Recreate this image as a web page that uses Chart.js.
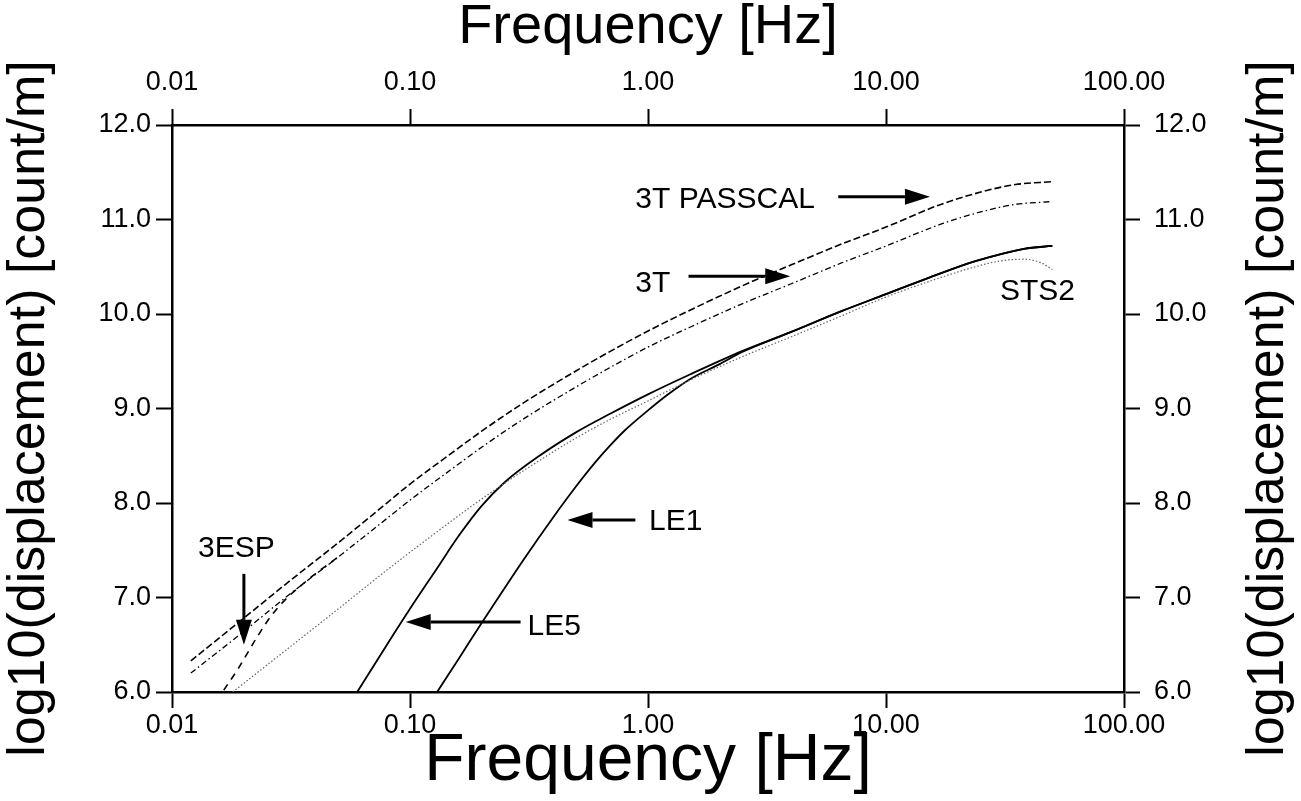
<!DOCTYPE html>
<html>
<head>
<meta charset="utf-8">
<script src="https://cdn.jsdelivr.net/npm/chart.js@4.4.1/dist/chart.umd.min.js"></script>
<style>
    html, body { margin: 0; padding: 0; background: #fff; }
</style>
</head>
<body>
<canvas id="responseChart" width="1301" height="801"></canvas>
<script>
// frequency (Hz) and log10(displacement) [count/m]
const passcalFreq = [0.012, 0.02, 0.03, 0.05, 0.07, 0.1, 0.15, 0.2, 0.3, 0.5, 0.7, 1.0, 1.5, 2.5, 4, 6.5, 10, 17, 25, 35, 50];
const passcalVal = [6.33, 6.78, 7.14, 7.58, 7.88, 8.20, 8.53, 8.76, 9.06, 9.40, 9.61, 9.82, 10.04, 10.30, 10.52, 10.74, 10.92, 11.16, 11.29, 11.37, 11.40];

const t3Freq = [0.012, 0.02, 0.03, 0.05, 0.07, 0.1, 0.15, 0.2, 0.3, 0.5, 0.7, 1.0, 1.5, 2.5, 4, 6.5, 10, 17, 25, 35, 50];
const t3Val = [6.20, 6.64, 7.00, 7.43, 7.72, 8.03, 8.36, 8.59, 8.89, 9.23, 9.44, 9.65, 9.86, 10.11, 10.32, 10.54, 10.72, 10.95, 11.08, 11.16, 11.19];

const espFreq = [0.0165, 0.019, 0.0225, 0.026, 0.03, 0.035, 0.04, 0.05];
const espVal = [6.02, 6.25, 6.56, 6.80, 6.98, 7.13, 7.25, 7.43];

const stsFreq = [0.018, 0.03, 0.05, 0.08, 0.12, 0.18, 0.25, 0.35, 0.5, 0.7, 1.0, 1.5, 2.5, 4, 6.5, 10, 15, 23, 30, 38, 45, 50];
const stsVal = [6.0, 6.44, 6.88, 7.29, 7.63, 7.96, 8.21, 8.45, 8.69, 8.89, 9.08, 9.30, 9.55, 9.76, 9.98, 10.18, 10.34, 10.49, 10.56, 10.58, 10.54, 10.47];

const le5Freq = [0.06, 0.08, 0.1, 0.13, 0.16, 0.2, 0.25, 0.35, 0.5, 0.7, 1.0, 1.5, 2.5, 4, 6.5, 10, 15, 23, 30, 38, 50];
const le5Val = [6.0, 6.50, 6.88, 7.31, 7.65, 7.97, 8.22, 8.50, 8.75, 8.95, 9.15, 9.36, 9.61, 9.81, 10.03, 10.21, 10.38, 10.55, 10.63, 10.69, 10.72];

const le1Freq = [0.13, 0.16, 0.2, 0.25, 0.3, 0.4, 0.5, 0.6, 0.7, 0.8, 1.0, 1.2, 1.5, 2.0, 2.5, 4, 6.5, 10, 15, 23, 30, 38, 50];
const le1Val = [6.0, 6.35, 6.73, 7.10, 7.40, 7.85, 8.18, 8.43, 8.62, 8.77, 8.98, 9.14, 9.31, 9.47, 9.60, 9.81, 10.03, 10.21, 10.38, 10.55, 10.63, 10.69, 10.72];

const xTicks = [0.01, 0.1, 1, 10, 100];
const yTicks = [6, 7, 8, 9, 10, 11, 12];

// annotations (text + arrows), placed in data coordinates
const labelText = ['3T PASSCAL', '3T', 'STS2', '3ESP', 'LE1', 'LE5'];
const labelFreq = [0.885, 0.885, 30.1, 0.01286, 1.01, 0.312];
const labelVal = [11.21, 10.32, 10.24, 7.52, 7.80, 6.69];

const arrowFromFreq = [6.30, 1.48, 0.885, 0.2915, 0.02005];
const arrowFromVal = [11.24, 10.40, 7.82, 6.74, 7.25];
const arrowToFreq = [15.3, 3.96, 0.459, 0.0959, 0.02005];
const arrowToVal = [11.24, 10.40, 7.82, 6.74, 6.50];

const yTitle = 'log10(displacement) [count/m]';
const fontFamily = '"Liberation Sans", Arial, Helvetica, sans-serif';

function toPoints(freq, vals) {
    return freq.map((f, i) => ({ x: f, y: vals[i] }));
}

const annotationPlugin = {
    id: 'figureLabels',
    afterDraw(chart) {
        const { ctx, chartArea, scales } = chart;
        const px = f => scales.x.getPixelForValue(f);
        const py = v => scales.y.getPixelForValue(v);

        ctx.save();
        ctx.fillStyle = '#000';
        ctx.strokeStyle = '#000';
        ctx.font = '30px ' + fontFamily;
        ctx.textBaseline = 'middle';
        ctx.textAlign = 'left';
        labelText.forEach((t, i) => {
            ctx.fillText(t, px(labelFreq[i]), py(labelVal[i]));
        });

        ctx.lineWidth = 3;
        arrowFromFreq.forEach((f, i) => {
            const x1 = px(f), y1 = py(arrowFromVal[i]);
            const x2 = px(arrowToFreq[i]), y2 = py(arrowToVal[i]);
            const ang = Math.atan2(y2 - y1, x2 - x1);
            const headLen = 25, headHalf = 8;
            const bx = x2 - headLen * Math.cos(ang), by = y2 - headLen * Math.sin(ang);
            ctx.beginPath();
            ctx.moveTo(x1, y1);
            ctx.lineTo(bx, by);
            ctx.stroke();
            ctx.beginPath();
            ctx.moveTo(x2, y2);
            ctx.lineTo(bx + headHalf * Math.sin(ang), by - headHalf * Math.cos(ang));
            ctx.lineTo(bx - headHalf * Math.sin(ang), by + headHalf * Math.cos(ang));
            ctx.closePath();
            ctx.fill();
        });

        // right-hand axis title reads bottom to top like the left one
        ctx.translate(chart.width - 32, (chartArea.top + chartArea.bottom) / 2);
        ctx.rotate(-Math.PI / 2);
        ctx.textAlign = 'center';
        ctx.font = '52px ' + fontFamily;
        ctx.fillText(yTitle, 0, 0);
        ctx.restore();
    }
};

const axisGrid = {
    drawOnChartArea: false,
    drawTicks: true,
    tickLength: 16,
    tickWidth: 2,
    color: '#000'
};
const axisBorder = { display: true, color: '#000', width: 2.5 };
const tickFont = { family: fontFamily, size: 27 };

const ctx = document.getElementById('responseChart').getContext('2d');
new Chart(ctx, {
    type: 'line',
    data: {
        datasets: [
            {
                label: '3T PASSCAL',
                data: toPoints(passcalFreq, passcalVal),
                borderColor: '#000',
                borderWidth: 1.6,
                borderDash: [7, 3],
                pointRadius: 0,
                cubicInterpolationMode: 'monotone'
            },
            {
                label: '3T',
                data: toPoints(t3Freq, t3Val),
                borderColor: '#000',
                borderWidth: 1.3,
                borderDash: [6, 3, 1.5, 3],
                pointRadius: 0,
                cubicInterpolationMode: 'monotone'
            },
            {
                label: '3ESP',
                data: toPoints(espFreq, espVal),
                borderColor: '#000',
                borderWidth: 1.6,
                borderDash: [7, 6],
                pointRadius: 0,
                cubicInterpolationMode: 'monotone'
            },
            {
                label: 'STS2',
                data: toPoints(stsFreq, stsVal),
                borderColor: '#666',
                borderWidth: 1.2,
                borderDash: [1.5, 2],
                pointRadius: 0,
                cubicInterpolationMode: 'monotone'
            },
            {
                label: 'LE5',
                data: toPoints(le5Freq, le5Val),
                borderColor: '#000',
                borderWidth: 1.8,
                pointRadius: 0,
                cubicInterpolationMode: 'monotone'
            },
            {
                label: 'LE1',
                data: toPoints(le1Freq, le1Val),
                borderColor: '#000',
                borderWidth: 1.8,
                pointRadius: 0,
                cubicInterpolationMode: 'monotone'
            }
        ]
    },
    options: {
        responsive: false,
        animation: false,
        layout: { padding: 0 },
        plugins: {
            legend: { display: false },
            tooltip: { enabled: false }
        },
        scales: {
            x: {
                type: 'logarithmic',
                position: 'bottom',
                min: 0.01,
                max: 100,
                afterBuildTicks: scale => { scale.ticks = xTicks.map(v => ({ value: v })); },
                afterFit: scale => { scale.height = 109; },
                ticks: {
                    color: '#000',
                    font: tickFont,
                    padding: 1,
                    maxRotation: 0,
                    autoSkip: false,
                    callback: value => Number(value).toFixed(2)
                },
                grid: axisGrid,
                border: axisBorder,
                title: {
                    display: true,
                    text: 'Frequency [Hz]',
                    color: '#000',
                    font: { family: fontFamily, size: 66, lineHeight: 1 },
                    padding: { top: 0, bottom: 6 }
                }
            },
            x2: {
                type: 'logarithmic',
                position: 'top',
                min: 0.01,
                max: 100,
                afterBuildTicks: scale => { scale.ticks = xTicks.map(v => ({ value: v })); },
                afterFit: scale => { scale.height = 125; },
                ticks: {
                    color: '#000',
                    font: tickFont,
                    padding: 10,
                    maxRotation: 0,
                    autoSkip: false,
                    callback: value => Number(value).toFixed(2)
                },
                grid: axisGrid,
                border: axisBorder,
                title: {
                    display: true,
                    text: 'Frequency [Hz]',
                    color: '#000',
                    font: { family: fontFamily, size: 56, lineHeight: 1 },
                    padding: { top: 0, bottom: 0 }
                }
            },
            y: {
                type: 'linear',
                position: 'left',
                min: 6,
                max: 12,
                afterBuildTicks: scale => { scale.ticks = yTicks.map(v => ({ value: v })); },
                afterFit: scale => { scale.width = 172; },
                ticks: {
                    color: '#000',
                    font: tickFont,
                    padding: 5,
                    callback: value => Number(value).toFixed(1)
                },
                grid: axisGrid,
                border: axisBorder,
                title: {
                    display: true,
                    text: yTitle,
                    color: '#000',
                    font: { family: fontFamily, size: 52, lineHeight: 1 },
                    padding: { top: 4, bottom: 0 }
                }
            },
            y2: {
                type: 'linear',
                position: 'right',
                min: 6,
                max: 12,
                afterBuildTicks: scale => { scale.ticks = yTicks.map(v => ({ value: v })); },
                afterFit: scale => { scale.width = 177; },
                ticks: {
                    color: '#000',
                    font: tickFont,
                    padding: 14,
                    callback: value => Number(value).toFixed(1)
                },
                grid: axisGrid,
                border: axisBorder,
                title: { display: false }
            }
        }
    },
    plugins: [annotationPlugin]
});
</script>
</body>
</html>
